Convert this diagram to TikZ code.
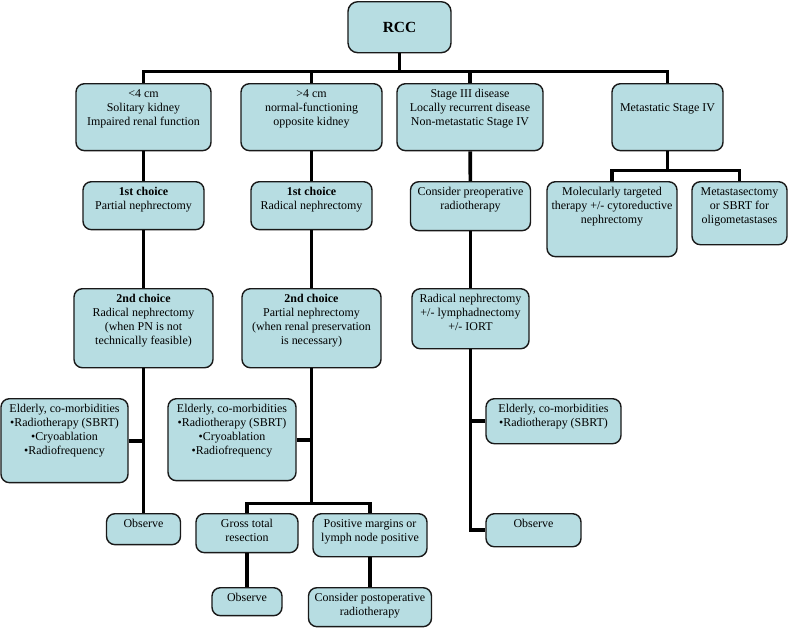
\documentclass[tikz,border=0pt]{standalone}
\usepackage{fontspec}
\setmainfont{Liberation Serif}
\usepackage{xcolor}
\usepackage{tikz}
\definecolor{boxfill}{RGB}{183,221,226}
\newcommand{\lines}[1]{\begin{tabular}[t]{@{}c@{}}#1\end{tabular}}

\begin{document}
\begin{tikzpicture}[
    x=0.025cm, y=-0.025cm,
    box/.style={draw=black!90, fill=boxfill, rectangle, rounded corners=6pt, line width=1pt, anchor=north, inner xsep=2pt, inner ysep=3pt, text height=7pt, font=\fontsize{8.5}{10}\selectfont},
    root/.style={draw=black!90, fill=boxfill, rectangle, rounded corners=7pt, line width=1pt, anchor=north, minimum width=2.575cm, minimum height=1.275cm, font=\fontsize{11}{12}\selectfont\bfseries},
    link/.style={draw, line width=2.6pt, color=black}
]
    \useasboundingbox (0,0) rectangle (788,627);

    \node[root] (rcc) at (399.5,1) {RCC};

    \node[box, minimum width=3.375cm, text depth=34.6pt] (a1) at (143.5,83) {\lines{<4 cm\\Solitary kidney\\Impaired renal function}};
    \node[box, minimum width=3.525cm, text depth=34.6pt] (b1) at (311.5,83) {\lines{>4 cm\\normal-functioning\\opposite kidney}};
    \node[box, minimum width=3.65cm, text depth=34.6pt] (c1) at (470,83) {\lines{Stage III disease\\Locally recurrent disease\\Non-metastatic Stage IV}};
    \node[box, minimum width=2.775cm, text depth=34.6pt] (d1) at (667.5,83) {\lines{\\Metastatic Stage IV}};

    \node[box, minimum width=3.025cm, text depth=21.1pt] (a2) at (143.5,181) {\lines{\textbf{1st choice}\\Partial nephrectomy}};
    \node[box, minimum width=3.025cm, text depth=21.1pt] (b2) at (311.5,181) {\lines{\textbf{1st choice}\\Radical nephrectomy}};
    \node[box, minimum width=3.0cm, text depth=21.8pt] (c2) at (470.5,181) {\lines{Consider preoperative\\radiotherapy}};
    \node[box, minimum width=3.25cm, text depth=40.3pt] (d2a) at (612,181) {\lines{Molecularly targeted\\therapy +/- cytoreductive\\nephrectomy}};
    \node[box, minimum width=2.375cm, text depth=31.8pt] (d2b) at (739.5,181) {\lines{Metastasectomy\\or SBRT for\\oligometastases}};

    \node[box, minimum width=3.475cm, text depth=43.2pt] (a3) at (143.5,288) {\lines{\textbf{2nd choice}\\Radical nephrectomy\\(when PN is not\\technically feasible)}};
    \node[box, minimum width=3.475cm, text depth=43.2pt] (b3) at (311.5,288) {\lines{\textbf{2nd choice}\\Partial nephrectomy\\(when renal preservation\\is necessary)}};
    \node[box, minimum width=2.925cm, text depth=29.7pt] (c3) at (470.5,288) {\lines{Radical nephrectomy\\+/- lymphadnectomy\\+/- IORT}};

    \node[box, minimum width=3.175cm, text depth=46.7pt] (a4) at (64.5,398) {\lines{Elderly, co-morbidities\\•Radiotherapy (SBRT)\\•Cryoablation\\•Radiofrequency}};
    \node[box, minimum width=3.2cm, text depth=45.3pt] (b4) at (232,398) {\lines{Elderly, co-morbidities\\•Radiotherapy (SBRT)\\•Cryoablation\\•Radiofrequency}};
    \node[box, minimum width=3.375cm, text depth=19pt] (c4) at (553.5,398) {\lines{Elderly, co-morbidities\\•Radiotherapy (SBRT)}};

    \node[box, minimum width=1.85cm, text depth=9pt] (a5) at (143.5,513) {\lines{Observe}};
    \node[box, minimum width=2.55cm, text depth=14.7pt] (b5a) at (247,513) {\lines{Gross total\\resection}};
    \node[box, minimum width=2.85cm, text depth=17.6pt] (b5b) at (370,513) {\lines{Positive margins or\\lymph node positive}};
    \node[box, minimum width=2.375cm, text depth=10.5pt] (c5) at (533.5,513) {\lines{Observe}};

    \node[box, minimum width=1.75cm, text depth=6.9pt] (b6a) at (247,587) {\lines{Observe}};
    \node[box, minimum width=3.075cm, text depth=14.7pt] (b6b) at (370,587) {\lines{Consider postoperative\\radiotherapy}};

    \foreach \n in {a1,b1,c1,d1}
        \draw[link] (rcc.south) -- ++(0,18) -| (\n.north);
    \draw[link] (a1) -- (a2);
    \draw[link] (a2) -- (a3);
    \draw[link] (a3.south) -- (a5.north);
    \draw[link] (a4.east) -- (a4.east -| a3.south);
    \draw[link] (b1) -- (b2);
    \draw[link] (b2) -- (b3);
    \draw[link] (b4.east) -- (b4.east -| b3.south);
    \foreach \n in {b5a,b5b}
        \draw[link] (b3.south) -- ++(0,135) -| (\n.north);
    \draw[link] (b5a) -- (b6a);
    \draw[link] (b5b) -- (b6b);
    \draw[link] (c1) -- (c2);
    \draw[link] (c2) -- (c3);
    \draw[link] (c3.south) |- (c5.west);
    \draw[link] (c4.west) -- (c4.west -| c3.south);
    \foreach \n in {d2a,d2b}
        \draw[link] (d1.south) -- ++(0,19) -| (\n.north);
\end{tikzpicture}
\end{document}
